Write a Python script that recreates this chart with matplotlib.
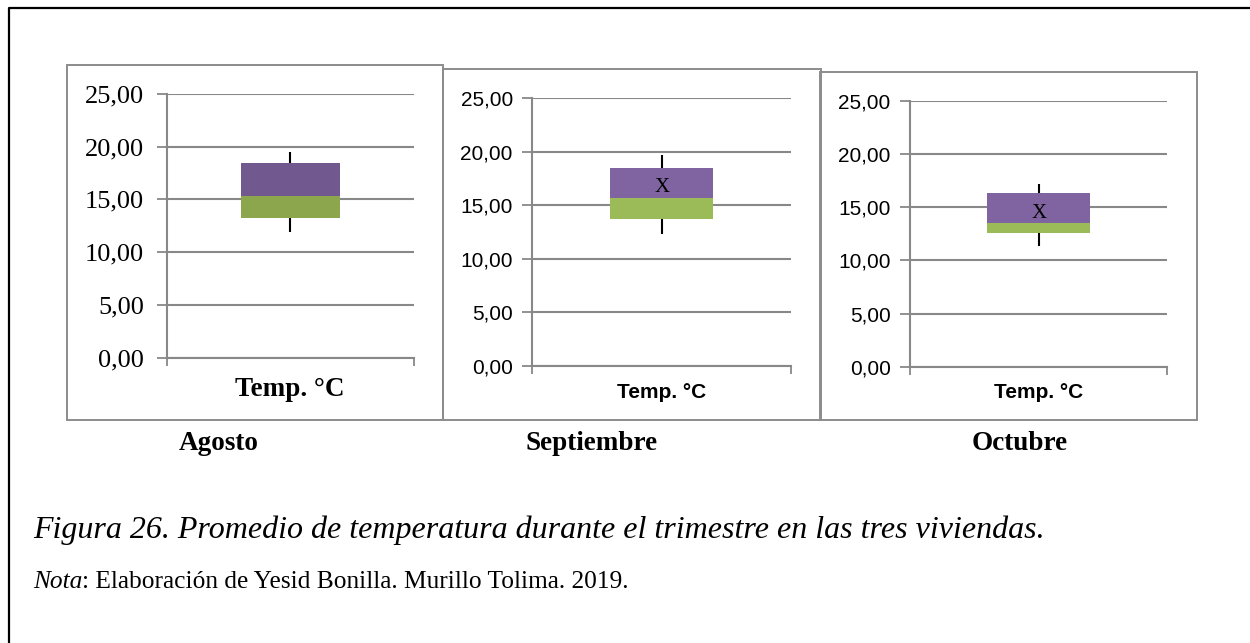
import matplotlib
matplotlib.use("Agg")
import matplotlib.pyplot as plt
from matplotlib.patches import Rectangle
from matplotlib.lines import Line2D

# Temperaturas por mes (°C)
meses = ["Agosto", "Septiembre", "Octubre"]
minimos = [11.95, 12.35, 11.35]
cuartil_1 = [13.25, 13.75, 12.55]
medianas = [15.30, 15.70, 13.55]
cuartil_3 = [18.45, 18.50, 16.35]
maximos = [19.50, 19.70, 17.20]
medias = [None, 16.65, 14.45]
ticks_y = [0, 5, 10, 15, 20, 25]
etiqueta_x = "Temp. °C"

W, H = 1250, 643
fig = plt.figure(figsize=(W / 100, H / 100), dpi=100)


def caja_px(x0, y0, x1, y1):
    return [x0 / W, 1 - y1 / H, (x1 - x0) / W, (y1 - y0) / H]


def marco(x0, y0, x1, y1):
    fig.patches.append(Rectangle((x0 / W, 1 - y1 / H), (x1 - x0) / W, (y1 - y0) / H,
                                 transform=fig.transFigure, fill=False,
                                 edgecolor="#8c8c8c", linewidth=1.4))


# posiciones de cada grafico (px): marco, ejes, etiqueta
paneles = [
    dict(marco=(67, 65, 443, 420), ejes=(166.7, 93.7, 414, 357.7), centro=(290, 390),
         fuente="Liberation Serif", tam=19, tam_x=19.5, pad=9.5,
         morado="#71598f", verde="#8ba64d"),
    dict(marco=(443, 69, 821, 420), ejes=(532.3, 98.3, 791, 366), centro=(662, 392),
         fuente="Liberation Sans", tam=15, tam_x=15, pad=7,
         morado="#8064a2", verde="#9bbb59"),
    dict(marco=(820, 72, 1197, 420), ejes=(910, 101, 1167.3, 366.7), centro=(1039, 393),
         fuente="Liberation Sans", tam=15, tam_x=15, pad=7,
         morado="#8064a2", verde="#9bbb59"),
]

gris = "#888888"
for i, p in enumerate(paneles):
    marco(*p["marco"])
    ax = fig.add_axes(caja_px(*p["ejes"]))
    ax.set_xlim(0.5, 1.5)
    ax.set_ylim(0, 25)

    # caja apilada: Q1 -> mediana (verde), mediana -> Q3 (morado)
    ax.bar(1, medianas[i] - cuartil_1[i], bottom=cuartil_1[i], width=0.4,
           color=p["verde"], zorder=3)
    ax.bar(1, cuartil_3[i] - medianas[i], bottom=medianas[i], width=0.4,
           color=p["morado"], zorder=3)
    ax.vlines(1, cuartil_3[i], maximos[i], color="black", linewidth=1.5, zorder=3)
    ax.vlines(1, minimos[i], cuartil_1[i], color="black", linewidth=1.5, zorder=3)
    if medias[i] is not None:
        ax.text(1, medias[i], "X", ha="center", va="center", fontsize=15,
                family="Liberation Serif", zorder=4)

    ax.set_yticks(ticks_y)
    ax.set_yticklabels([f"{v:.2f}".replace(".", ",") for v in ticks_y],
                       family=p["fuente"], fontsize=p["tam"])
    ax.set_xticks([0.5, 1.5])
    ax.set_xticklabels([])
    ax.tick_params(axis="y", length=7, width=1.3, color=gris, pad=p["pad"])
    ax.tick_params(axis="x", length=6, width=1.3, color=gris)
    ax.grid(axis="y", color=gris, linewidth=1.5, zorder=0)
    for lado in ["top", "right"]:
        ax.spines[lado].set_visible(False)
    for lado in ["left", "bottom"]:
        ax.spines[lado].set_color(gris)
        ax.spines[lado].set_linewidth(1.5)

    cx, cy = p["centro"]
    fig.text(cx / W, 1 - cy / H, etiqueta_x, ha="center", va="center",
             family=p["fuente"], fontsize=p["tam_x"], fontweight="bold")

# nombres de los meses
for nombre, x in zip(meses, [219, 592, 1020]):
    fig.text(x / W, 1 - 444 / H, nombre, ha="center", va="center",
             family="Liberation Serif", fontsize=19.5, fontweight="bold")

fig.text(33 / W, 1 - 530 / H,
         "Figura 26. Promedio de temperatura durante el trimestre en las tres viviendas.",
         ha="left", va="center", family="Liberation Serif", style="italic", fontsize=23)
t = fig.text(33 / W, 1 - 582 / H, "Nota", ha="left", va="center",
             family="Liberation Serif", style="italic", fontsize=18.3)
fig.canvas.draw()
bb = t.get_window_extent()
fig.text(bb.x1 / W, 1 - 582 / H, ": Elaboración de Yesid Bonilla. Murillo Tolima. 2019.",
         ha="left", va="center", family="Liberation Serif", fontsize=18.3)

# borde exterior (superior e izquierdo)
fig.lines.append(Line2D([9 / W, 9 / W, 1], [0, 1 - 8 / H, 1 - 8 / H],
                        transform=fig.transFigure, color="black", linewidth=1.6))

fig.savefig("out.png", dpi=100)
